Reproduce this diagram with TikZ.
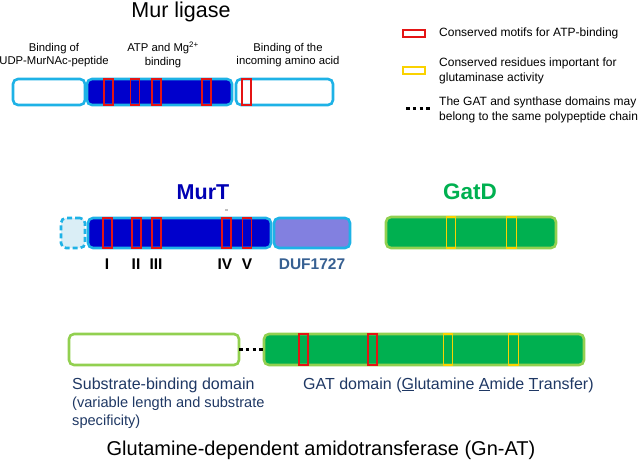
\documentclass[tikz,border=0pt]{standalone}
\usepackage{fontspec}
\setmainfont{Liberation Sans}
\definecolor{cyanb}{RGB}{30,178,230}
\definecolor{bluef}{RGB}{0,0,204}
\definecolor{purplef}{RGB}{130,128,224}
\definecolor{lightb}{RGB}{218,238,246}
\definecolor{greenf}{RGB}{0,176,80}
\definecolor{greenb}{RGB}{146,208,80}
\definecolor{motred}{RGB}{228,20,20}
\definecolor{motyel}{RGB}{250,210,0}
\definecolor{murtblue}{RGB}{0,0,180}
\definecolor{dufblue}{RGB}{55,96,146}
\definecolor{navy}{RGB}{31,56,100}
\begin{document}
\begin{tikzpicture}[x=1pt,y=-1pt,
  dom/.style={rounded corners=5pt, line width=2.6pt, inner sep=0pt, outer sep=0pt},
  cyandom/.style={dom, draw=cyanb},
  greendom/.style={dom, draw=greenb},
  redmot/.style={draw=motred, line width=1.3pt, inner sep=0pt, minimum width=9pt},
  yelmot/.style={draw=motyel, line width=1.3pt, inner sep=0pt, minimum width=9.5pt},
  smalltxt/.style={font=\fontsize{11.3}{13.5}\selectfont, align=center, inner sep=0pt},
  legtxt/.style={font=\fontsize{12}{15}\selectfont, align=left, anchor=west, inner sep=0pt},
  roman/.style={font=\fontsize{15.5}{17}\selectfont\bfseries, inner sep=0pt},
  navytxt/.style={anchor=west, inner sep=0pt, text=navy},
  dots/.style={line width=3.6pt, dash pattern=on 3.6pt off 3.2pt}
]
\useasboundingbox (0,0) rectangle (641,463);

% ---- Mur ligase ----
\node[font=\fontsize{21.5}{24}\selectfont, inner sep=0pt] (murtitle) at (181,12) {Mur ligase};
\node[smalltxt] (lab1) at (54,55) {Binding of\\UDP-MurNAc-peptide};
\node[smalltxt] (lab2) at (163,55) {ATP and Mg\textsuperscript{2+}\\binding};
\node[smalltxt] (lab3) at (288,55) {Binding of the\\incoming amino acid};

\node[cyandom, fill=white, minimum width=72pt, minimum height=26pt] (mb1) at (49,92) {};
\node[cyandom, fill=bluef, minimum width=145pt, minimum height=26pt] (mb2) at (159.5,92) {};
\node[cyandom, fill=white, minimum width=97pt, minimum height=26pt] (mb3) at (284.5,92) {};
\foreach \x [count=\i] in {108.5,135,156.5,206.5}
  \node[redmot, minimum height=26pt] (mm\i) at (\x,92) {};
\node[redmot, minimum height=26pt] (mm5) at (246.5,92) {};

% ---- Legend ----
\node[draw=motred, line width=2pt, minimum width=22pt, minimum height=7pt, inner sep=0pt] (legred) at (414,33.5) {};
\node[legtxt] (legredt) at (439,33) {Conserved motifs for ATP-binding};
\node[draw=motyel, line width=2pt, minimum width=22pt, minimum height=7pt, inner sep=0pt] (legyel) at (414,70.5) {};
\node[legtxt] (legyelt) at (439,71) {Conserved residues important for\\glutaminase activity};
\coordinate (legd1) at (406,108.5);
\coordinate (legd2) at (431,108.5);
\draw[dots] (legd1) -- (legd2);
\node[legtxt] (legdt) at (439,110) {The GAT and synthase domains may\\belong to the same polypeptide chain};

% ---- MurT ----
\node[font=\fontsize{21.5}{24}\selectfont\bfseries, text=murtblue, inner sep=0pt] (murt) at (203,192) {MurT};
\node[fill=black!25, minimum width=3pt, minimum height=2.5pt, inner sep=0pt] (tick) at (226,210) {};
\node[dom, draw=cyanb, dashed, dash pattern=on 5pt off 3pt, fill=lightb, minimum width=24pt, minimum height=30pt] (mtd) at (73,233) {};
\node[cyandom, fill=bluef, minimum width=183pt, minimum height=30pt] (mtb) at (179.5,233) {};
\node[cyandom, fill=purplef, minimum width=76pt, minimum height=30pt] (mtp) at (312,233) {};
\foreach \x [count=\i] in {107.5,136.5,156.5,226.5,247}
  \node[redmot, minimum height=30pt] (tm\i) at (\x,233) {};
\node[roman] (r1) at (107,264) {I};
\node[roman] (r2) at (136,264) {II};
\node[roman] (r3) at (156,264) {III};
\node[roman] (r4) at (225,264) {IV};
\node[roman] (r5) at (247,264) {V};
\node[roman, text=dufblue] (duf) at (312,264) {DUF1727};

% ---- GatD ----
\node[font=\fontsize{22.5}{24}\selectfont\bfseries, text=greenf, inner sep=0pt] (gatd) at (470,192) {GatD};
\node[greendom, fill=greenf, minimum width=170pt, minimum height=31pt] (gdb) at (471,232.5) {};
\node[yelmot, minimum height=31pt] (gy1) at (451,232.5) {};
\node[yelmot, minimum height=31pt] (gy2) at (511.5,232.5) {};

% ---- Gn-AT ----
\node[greendom, fill=white, minimum width=170pt, minimum height=31pt] (gw) at (154,349.5) {};
\node[greendom, fill=greenf, minimum width=320pt, minimum height=31pt] (gg) at (424,349.5) {};
\draw[dots] (gw.east) -- (gg.west);
\node[redmot, minimum height=31pt] (gr1) at (303.5,349.5) {};
\node[redmot, minimum height=31pt] (gr2) at (372.5,349.5) {};
\node[yelmot, minimum height=31pt] (gy3) at (448,349.5) {};
\node[yelmot, minimum height=31pt] (gy4) at (513.5,349.5) {};

\node[navytxt, font=\fontsize{16}{18}\selectfont] (subl1) at (72,385) {Substrate-binding domain};
\node[navytxt, font=\fontsize{14.6}{17}\selectfont] (subl2) at (72,403.5) {(variable length and substrate};
\node[navytxt, font=\fontsize{14.6}{17}\selectfont] (subl3) at (72,421.5) {specificity)};
\node[navytxt, font=\fontsize{16}{18}\selectfont] (gatl) at (303,385)
  {GAT domain (\underline{G}lutamine \underline{A}mide \underline{T}ransfer)};
\node[font=\fontsize{20}{22}\selectfont, inner sep=0pt] (gnat) at (321,450) {Glutamine-dependent amidotransferase (Gn-AT)};
\end{tikzpicture}
\end{document}
